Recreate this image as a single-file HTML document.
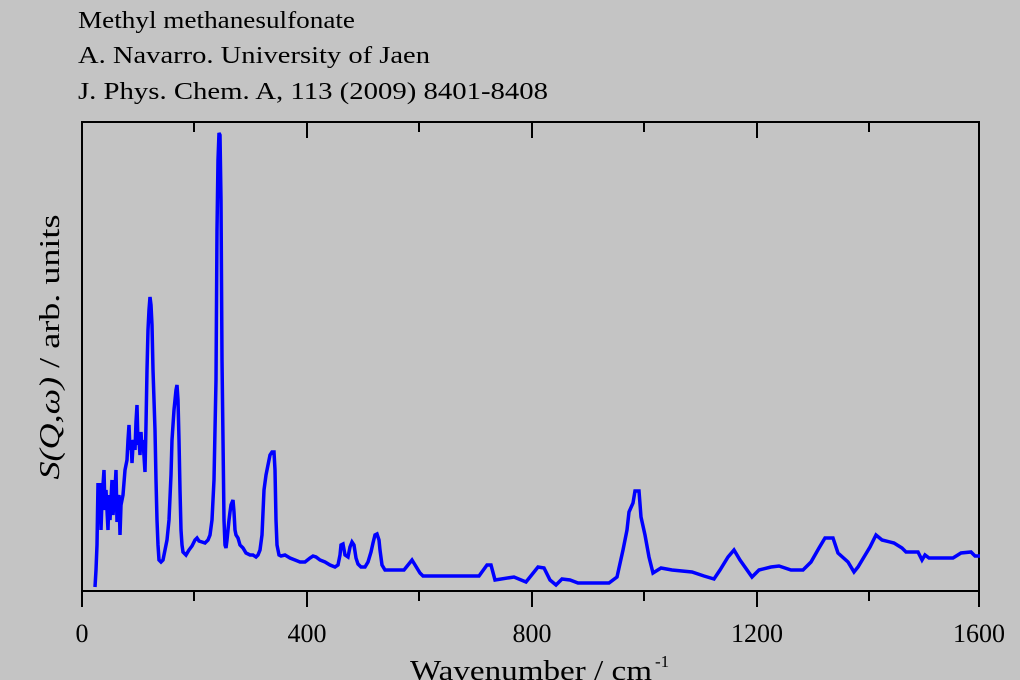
<!DOCTYPE html>
<html><head><style>html,body{margin:0;padding:0;background:#c4c4c4;}svg{display:block}</style></head>
<body>
<svg width="1020" height="680" viewBox="0 0 1020 680" xmlns="http://www.w3.org/2000/svg" font-family="'Liberation Serif', serif">
<rect width="1020" height="680" fill="#c4c4c4"/>
<g font-size="24" fill="#000">
<text x="78" y="28" textLength="277" lengthAdjust="spacingAndGlyphs">Methyl methanesulfonate</text>
<text x="78" y="63" textLength="352" lengthAdjust="spacingAndGlyphs">A. Navarro. University of Jaen</text>
<text x="78" y="99" textLength="470" lengthAdjust="spacingAndGlyphs">J. Phys. Chem. A, 113 (2009) 8401-8408</text>
</g>
<rect x="82" y="122" width="897" height="469" fill="none" stroke="#000" stroke-width="2"/>
<g stroke="#000" stroke-width="2">
<line x1="307" y1="591" x2="307" y2="607"/><line x1="532" y1="591" x2="532" y2="607"/><line x1="757" y1="591" x2="757" y2="607"/><line x1="82" y1="591" x2="82" y2="607"/><line x1="979" y1="591" x2="979" y2="607"/>
<line x1="194" y1="591" x2="194" y2="601"/><line x1="419" y1="591" x2="419" y2="601"/><line x1="644" y1="591" x2="644" y2="601"/><line x1="869" y1="591" x2="869" y2="601"/>
<line x1="307" y1="122" x2="307" y2="138"/><line x1="532" y1="122" x2="532" y2="138"/><line x1="757" y1="122" x2="757" y2="138"/>
<line x1="194" y1="122" x2="194" y2="132"/><line x1="419" y1="122" x2="419" y2="132"/><line x1="644" y1="122" x2="644" y2="132"/><line x1="869" y1="122" x2="869" y2="132"/>
</g>
<g font-size="26" text-anchor="middle">
<text x="82" y="642">0</text><text x="307" y="642">400</text><text x="532" y="642">800</text><text x="757" y="642">1200</text><text x="979" y="642">1600</text>
</g>
<text x="410" y="680" font-size="28" textLength="242" lengthAdjust="spacingAndGlyphs">Wavenumber / cm</text>
<text x="655" y="667" font-size="17">-1</text>
<text transform="translate(59,347) rotate(-90)" font-size="29" text-anchor="middle" textLength="265" lengthAdjust="spacingAndGlyphs"><tspan font-style="italic">S(Q,ω)</tspan> / arb. units</text>
<polyline fill="none" stroke="#0000ff" stroke-width="3.5" stroke-linejoin="miter" points="95,587 96,570 97,545 98,483 99,520 100,483 101,530 102,500 104,470 105,510 106,490 108,530 109,495 110,520 112,480 113,515 115,490 116,470 117,522 118,500 119,495 120,535 121,505 123,495 125,470 127,460 128,440 129,425 130,450 131,440 132,463 133,445 134,440 135,450 136,422 137,405 138,445 139,440 140,455 141,432 142,450 143,440 145,472 146,425 147,370 148,330 149,310 150,297 151,305 152,325 153,370 155,430 156,480 157,520 158,545 159,560 161,562 163,560 165,550 167,540 169,520 171,475 172,440 174,410 176,390 177,385 178,400 179,440 180,490 181,530 182,545 183,552 186,555 189,550 192,546 195,540 197,538 199,541 202,542 205,543 208,540 210,535 212,520 214,480 216,380 217,230 218,160 219,133 220,135 221,200 222,360 223,440 224,520 225,545 226,548 227,540 229,520 230,512 231,505 233,500 234,512 235,530 236,535 238,538 240,545 243,548 246,553 250,555 253,555 256,557 258,555 260,550 262,535 264,490 266,475 268,465 270,455 272,452 274,452 275,470 276,520 277,545 279,555 281,556 285,555 290,558 295,560 300,562 305,562 310,558 313,556 316,557 320,560 325,562 330,565 335,567 338,565 340,555 341,545 343,544 345,555 348,557 350,547 352,542 354,545 356,558 358,564 361,567 365,567 368,562 371,552 373,543 375,535 377,534 379,540 380,550 382,565 385,570 388,570 404,570 412,560 420,573 423,576 479,576 487,565 491,565 495,580 514,577 526,582 538,567 544,568 550,580 556,585 562,579 570,580 578,583 609,583 617,577 623,550 627,530 629,512 633,503 635,491 639,491 641,517 645,535 649,557 653,573 661,568 672,570 692,572 704,576 714,579 720,570 728,557 734,550 740,560 752,577 759,570 771,567 779,566 791,570 803,570 811,562 819,548 825,538 833,538 838,553 848,562 854,572 858,567 864,557 870,547 876,535 882,540 894,543 902,548 906,552 918,552 922,560 925,555 929,558 953,558 961,553 971,552 975,556 980,556"/>
</svg>
</body></html>
